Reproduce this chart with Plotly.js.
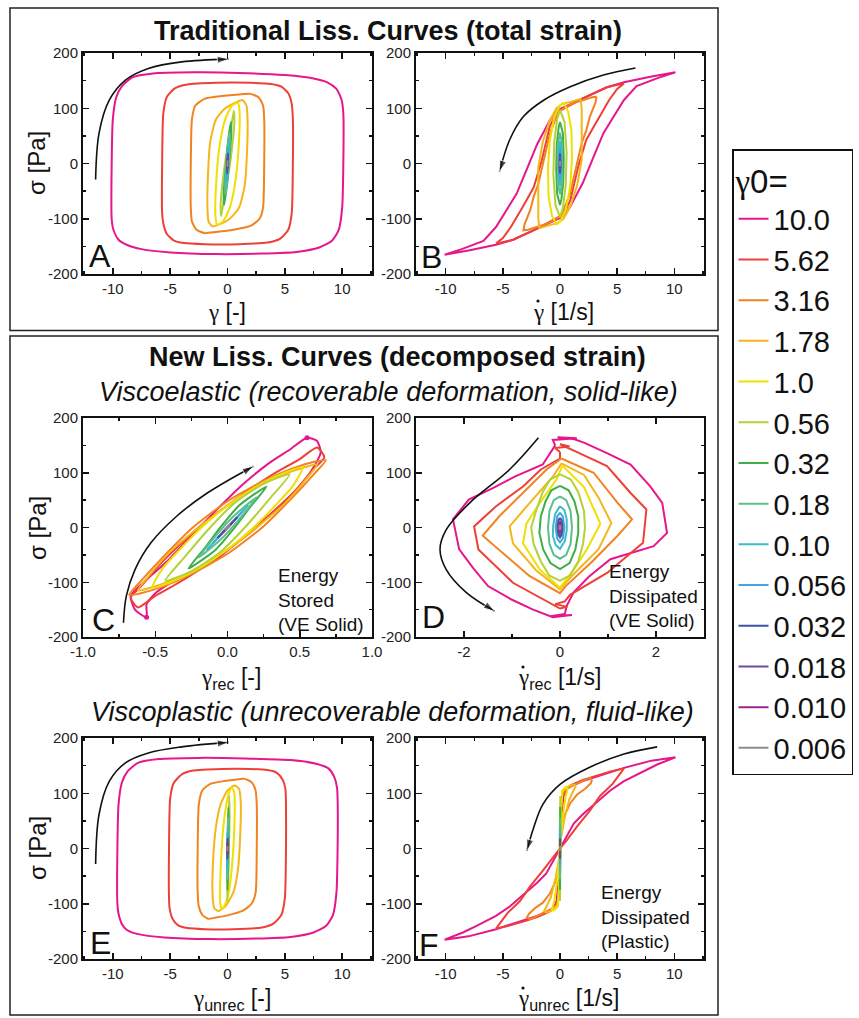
<!DOCTYPE html>
<html><head><meta charset="utf-8">
<script src="https://cdn.plot.ly/plotly-3.0.1.min.js"></script>
<style>body{margin:0;background:#fff}#chart{width:859px;height:1018px}</style>
</head><body><div id="chart"></div>
<script>
// ---------- categories / legend ----------
const amplitudes = ['10.0','5.62','3.16','1.78','1.0','0.56','0.32','0.18','0.10','0.056','0.032','0.018','0.010','0.006'];
const colors = ['#e6168b','#ee3f38','#f28220','#f5b61a','#f0e000','#b2d235','#3fae49','#5cbf8f','#3bbcc6','#43a6df','#3b55a4','#6e4c9f','#93278f','#8c8c8c'];

// ---------- tick labels ----------
const stressTicks = [-200,-100,0,100,200];
const stressTickText = ['-200','-100','0','100','200'];
const wideTicks = [-10,-5,0,5,10];
const wideTickText = ['-10','-5','0','5','10'];
const recTicks = [-1,-0.5,0,0.5,1];
const recTickText = ['-1.0','-0.5','0.0','0.5','1.0'];
const recRateTicks = [-2,0,2];
const recRateTickText = ['-2','0','2'];

// ---------- Panel A: stress vs total strain (one array per amplitude, legend order) ----------
const A_x = [
 [-10.1,-10.1,-10.0,-9.7,-9.2,-8.3,-6.5,-3.0,1.0,5.0,7.5,8.7,9.5,9.95,10.1,10.1,10.0,9.7,9.1,8.0,6.0,3.0,-1.0,-5.0,-7.5,-8.7,-9.5,-9.95,-10.1],
 [-5.7,-5.7,-5.6,-5.3,-4.6,-3.5,-1.0,2.0,3.8,4.7,5.3,5.6,5.7,5.7,5.6,5.3,4.6,3.5,1.0,-2.0,-3.8,-4.7,-5.3,-5.6,-5.7],
 [-3.2,-3.2,-3.1,-2.8,-2.0,-0.5,1.0,2.0,2.7,3.1,3.2,3.2,3.1,2.8,2.0,0.5,-1.0,-2.0,-2.7,-3.1,-3.2],
 [1.3,1.65,1.75,1.7,1.5,1.0,0.2,-0.7,-1.3,-1.65,-1.75,-1.7,-1.5,-1.0,-0.2,0.7,1.3],
 [0.9,1.05,1.0,0.7,0.2,-0.4,-0.9,-1.05,-1.0,-0.7,-0.2,0.4,0.9],
 [0.55,0.6,0.35,0.0,-0.35,-0.55,-0.6,-0.35,0.0,0.35,0.55],
 [0.3,0.33,0.15,-0.05,-0.3,-0.33,-0.15,0.05,0.3],
 [0.17,0.19,0.05,-0.17,-0.19,-0.05,0.17],
 [0.1,0.1,-0.1,-0.1,0.1],
 [0.056,0.056,-0.056,-0.056,0.056],
 [0.032,0.032,-0.032,-0.032,0.032],
 [0.018,0.018,-0.018,-0.018,0.018],
 [0.01,0.01,-0.01,-0.01,0.01],
 [0.006,0.006,-0.006,-0.006,0.006]
];
const A_y = [
 [-100,0,80,120,140,156,163,165,164,160,154,147,135,115,90,0,-80,-120,-140,-152,-160,-163,-164,-161,-155,-148,-138,-120,-100],
 [-90,0,90,120,136,143,146,146,144,139,127,108,80,0,-90,-120,-136,-143,-146,-146,-144,-139,-127,-108,-90],
 [-80,0,80,105,117,122,125,126,120,105,80,0,-80,-100,-113,-120,-124,-126,-120,-105,-80],
 [115,105,80,20,-40,-80,-100,-110,-114,-105,-80,-20,40,80,100,110,115],
 [110,95,40,-30,-80,-105,-111,-95,-40,30,80,105,110],
 [95,75,20,-30,-70,-95,-75,-20,30,70,95],
 [75,55,5,-40,-75,-55,-5,40,75],
 [56,35,-15,-56,-35,15,56],
 [40,20,-40,-20,40],
 [28,14,-28,-14,28],
 [18,9,-18,-9,18],
 [12,6,-12,-6,12],
 [8,4,-8,-4,8],
 [5,2,-5,-2,5]
];

// ---------- Panel B: stress vs total strain rate ----------
const B_x = [
 [10.1,8.6,6.7,5.6,4.7,3.8,2.9,2.0,0.9,0.3,-2.0,-4.1,-5.6,-7.9,-10.1,-8.6,-6.7,-5.6,-4.7,-3.8,-2.9,-2.0,-0.9,-0.3,2.0,4.1,5.6,7.9,10.1],
 [5.6,5.0,4.3,3.3,2.3,1.6,0.9,0.3,-2.0,-4.1,-5.6,-5.0,-4.3,-3.3,-2.3,-1.6,-0.9,-0.3,2.0,4.1,5.6],
 [3.2,3.1,2.6,2.3,1.9,1.4,0.9,0.4,0.0,-1.0,-2.0,-2.8,-3.2,-3.1,-2.6,-2.3,-1.9,-1.4,-0.9,-0.4,0.0,1.0,2.0,2.8,3.2],
 [1.8,1.9,1.9,1.9,1.5,0.9,0.3,-0.2,-1.0,-1.8,-1.9,-1.9,-1.9,-1.5,-0.9,-0.3,0.2,1.0,1.8],
 [0.3,0.7,1.0,1.05,0.9,0.5,0.0,-0.3,-0.7,-1.0,-1.05,-0.9,-0.5,0.0,0.3],
 [0,0.4,0.58,0.5,0.25,0,-0.4,-0.58,-0.5,-0.25,0],
 [0,0.25,0.33,0.28,0.12,0,-0.25,-0.33,-0.28,-0.12,0],
 [0,0.15,0.19,0.15,0,-0.15,-0.19,-0.15,0],
 [0,0.08,0.1,0.08,0,-0.08,-0.1,-0.08,0],
 [0,0.045,0.056,0.045,0,-0.045,-0.056,-0.045,0],
 [0,0.026,0.032,0.026,0,-0.026,-0.032,-0.026,0],
 [0,0.014,0.018,0.014,0,-0.014,-0.018,-0.014,0],
 [0,0.008,0.01,0.008,0,-0.008,-0.01,-0.008,0],
 [0,0.005,0.006,0.005,0,-0.005,-0.006,-0.005,0]
];
const B_y = [
 [165,155,140,115,85,55,10,-35,-78,-96,-118,-138,-147,-157,-165,-155,-140,-115,-85,-55,-10,35,78,96,118,138,147,157,165],
 [145,135,115,80,43,-5,-67,-92,-118,-138,-145,-135,-115,-80,-43,5,67,92,118,138,145],
 [121,110,84,60,37,-10,-53,-80,-96,-108,-115,-120,-121,-110,-84,-60,-37,10,53,80,96,108,115,120,121],
 [117,100,60,7,-40,-78,-100,-108,-112,-117,-100,-60,-7,40,78,100,108,112,117],
 [110,95,60,10,-40,-85,-105,-110,-95,-60,-10,40,85,105,110],
 [97,75,20,-40,-80,-97,-75,-20,40,80,97],
 [75,55,10,-35,-65,-75,-55,-10,35,65,75],
 [56,38,0,-38,-56,-38,0,38,56],
 [40,28,0,-28,-40,-28,0,28,40],
 [28,20,0,-20,-28,-20,0,20,28],
 [18,13,0,-13,-18,-13,0,13,18],
 [12,8.5,0,-8.5,-12,-8.5,0,8.5,12],
 [8,5.7,0,-5.7,-8,-5.7,0,5.7,8],
 [5,3.5,0,-3.5,-5,-3.5,0,3.5,5]
];

// ---------- Panel C: stress vs recoverable strain ----------
const C_x = [
 [-0.56,-0.64,-0.67,-0.58,-0.42,-0.25,-0.05,0.09,0.29,0.43,0.55,0.62,0.645,0.6,0.5,0.3,0.1,-0.1,-0.32,-0.49,-0.56,-0.56],
 [-0.62,-0.67,-0.6,-0.45,-0.2,0.05,0.3,0.5,0.62,0.67,0.6,0.45,0.2,-0.05,-0.3,-0.5,-0.62],
 [-0.68,-0.6,-0.45,-0.24,0,0.25,0.45,0.6,0.68,0.6,0.45,0.24,0,-0.25,-0.45,-0.6,-0.68],
 [-0.62,-0.55,-0.4,-0.2,0,0.25,0.45,0.62,0.55,0.4,0.2,0,-0.25,-0.45,-0.62],
 [-0.52,-0.45,-0.33,-0.18,0,0.18,0.35,0.52,0.45,0.33,0.18,0,-0.18,-0.35,-0.52],
 [-0.43,-0.3,-0.12,0.05,0.25,0.43,0.3,0.12,-0.05,-0.25,-0.43],
 [-0.27,-0.15,-0.05,0.08,0.27,0.15,0.05,-0.08,-0.27],
 [-0.2,-0.08,0.04,0.2,0.08,-0.04,-0.2],
 [-0.14,0.02,0.14,-0.02,-0.14],
 [-0.1,0.01,0.1,-0.01,-0.1],
 [-0.065,0.006,0.065,-0.006,-0.065],
 [-0.045,0.004,0.045,-0.004,-0.045],
 [-0.03,0.003,0.03,-0.003,-0.03],
 [-0.018,0.002,0.018,-0.002,-0.018]
];
const C_y = [
 [-164,-150,-125,-100,-62,-15,39,75,118,142,164,158,137,112,75,25,-20,-62,-90,-118,-140,-164],
 [-146,-128,-108,-62,0,50,95,125,146,128,108,62,0,-50,-95,-125,-146],
 [-123,-98,-55,0,48,85,108,120,123,98,55,0,-48,-85,-108,-120,-123],
 [-115,-90,-45,0,40,80,103,115,90,45,0,-40,-80,-103,-115],
 [-110,-75,-40,0,40,72,95,110,75,40,0,-40,-72,-95,-110],
 [-97,-55,0,45,80,97,55,0,-45,-80,-97],
 [-75,-35,0,40,75,35,0,-40,-75],
 [-55,-15,20,55,15,-20,-55],
 [-40,5,40,-5,-40],
 [-28,3,28,-3,-28],
 [-18,2,18,-2,-18],
 [-12,1.5,12,-1.5,-12],
 [-8,1,8,-1,-8],
 [-5,0.5,5,-0.5,-5]
];

// ---------- Panel D: stress vs recoverable strain rate ----------
const D_x = [
 [-0.1,-0.15,0.35,-0.05,0.3,0.5,1.0,1.47,1.88,2.13,2.23,1.95,1.05,0.6,0.28,0.14,0.1,-0.2,0.25,-0.15,-0.56,-1.0,-1.5,-1.8,-2.1,-2.23,-1.9,-1.4,-0.92,-0.36,-0.1],
 [0.0,-0.1,0.2,0.0,0.3,0.98,1.47,1.8,1.73,0.98,0.21,0.1,-0.1,0.15,0.0,-0.98,-1.7,-1.79,-1.33,-0.77,-0.4,0.0,0.0],
 [0.03,0.7,1.2,1.5,1.2,0.65,0.12,0.0,-0.63,-1.12,-1.61,-1.26,-0.77,-0.28,0.03],
 [0.03,0.5,0.8,1.07,0.8,0.24,0.0,-0.5,-0.98,-1.05,-0.63,-0.14,0.03],
 [0.05,0.5,0.84,0.56,0.24,0.0,-0.42,-0.77,-0.7,-0.42,-0.07,0.05],
 [0,0.22,0.38,0.5,0.52,0.48,0.38,0.2,0,-0.22,-0.4,-0.55,-0.6,-0.5,-0.36,-0.2,0],
 [0,0.18,0.3,0.38,0.38,0.32,0.2,0,-0.2,-0.35,-0.43,-0.4,-0.3,-0.18,0],
 [0,0.13,0.22,0.25,0.22,0.13,0,-0.13,-0.22,-0.25,-0.22,-0.13,0],
 [0,0.09,0.14,0.14,0.1,0,-0.09,-0.15,-0.14,-0.1,0],
 [0,0.06,0.09,0.06,0,-0.06,-0.09,-0.06,0],
 [0,0.035,0.05,0.035,0,-0.035,-0.05,-0.035,0],
 [0,0.025,0.035,0.025,0,-0.025,-0.035,-0.025,0],
 [0,0.015,0.02,0.015,0,-0.015,-0.02,-0.015,0],
 [0,0.008,0.012,0.008,0,-0.008,-0.012,-0.008,0]
];
const D_y = [
 [150,160,163,165,161,155,135,115,75,45,-10,-34,-58,-90,-119,-143,-158,-162,-160,-164,-150,-132,-107,-75,-40,15,51,72,94,115,150],
 [138,145,148,152,140,112,63,33,-28,-83,-123,-135,-140,-145,-148,-101,-40,2,39,75,106,126,138],
 [126,100,45,15,-15,-64,-107,-120,-89,-52,-15,21,63,106,126],
 [117,96,55,8,-40,-89,-113,-78,-29,2,45,94,117],
 [113,74,7,-40,-83,-110,-77,-29,7,45,88,113],
 [97,88,65,30,0,-30,-62,-88,-97,-88,-62,-30,0,30,65,88,97],
 [76,68,48,20,-10,-40,-65,-76,-65,-40,-10,20,48,68,76],
 [57,50,30,0,-30,-50,-57,-50,-30,0,30,50,57],
 [39,32,15,-5,-25,-39,-32,-15,5,25,39],
 [27,20,0,-20,-27,-20,0,20,27],
 [18,13,0,-13,-18,-13,0,13,18],
 [12,9,0,-9,-12,-9,0,9,12],
 [8,6,0,-6,-8,-6,0,6,8],
 [4,3,0,-3,-4,-3,0,3,4]
];

// ---------- Panel E: stress vs unrecoverable strain ----------
const E_x = [
 [-9.6,-9.6,-9.5,-9.2,-8.7,-7.8,-6.0,-2.5,1.5,5.5,7.8,8.8,9.3,9.55,9.6,9.6,9.5,9.2,8.6,7.5,5.5,2.5,-1.5,-5.5,-7.8,-8.8,-9.2,-9.5,-9.6],
 [-5.1,-5.1,-5.0,-4.7,-4.0,-3.0,-0.5,2.0,3.5,4.3,4.8,5.05,5.1,5.1,5.0,4.7,4.0,3.0,0.5,-2.0,-3.5,-4.3,-4.8,-5.05,-5.1],
 [-2.6,-2.6,-2.5,-2.2,-1.5,-0.3,0.8,1.5,2.1,2.45,2.55,2.55,2.45,2.1,1.3,0.0,-1.0,-1.7,-2.2,-2.5,-2.6],
 [0.6,1.0,1.15,1.1,0.9,0.5,-0.2,-0.8,-1.15,-1.3,-1.25,-1.0,-0.6,0.0,0.6],
 [0.4,0.6,0.6,0.4,0.1,-0.3,-0.5,-0.65,-0.6,-0.4,-0.1,0.2,0.4],
 [0.15,0.18,0.1,0.0,-0.03,0.05,0.15],
 [0.08,0.1,0.05,0.0,-0.02,0.03,0.08],
 [0.05,0.06,0.02,0.0,-0.01,0.03,0.05],
 [0.03,0.035,0.0,-0.005,0.03],
 [0.02,0.025,0.0,-0.005,0.02],
 [0.01,0.012,0.0,-0.002,0.01],
 [0.006,0.007,0.0,-0.001,0.006],
 [0.004,0.005,0.0,-0.001,0.004],
 [0.002,0.003,0.0,-0.001,0.002]
];
const E_y = [
 [-100,0,80,120,140,155,162,164,163,160,153,145,130,110,90,0,-80,-120,-140,-152,-160,-163,-164,-161,-155,-147,-137,-118,-100],
 [-90,0,90,118,134,141,144,144,142,137,125,108,80,0,-90,-120,-136,-143,-146,-146,-144,-139,-127,-108,-90],
 [-80,0,80,105,117,122,125,126,120,105,80,0,-80,-100,-113,-121,-125,-127,-120,-105,-80],
 [114,108,85,20,-40,-80,-105,-113,-108,-85,-20,40,80,105,114],
 [110,100,40,-30,-80,-105,-110,-95,-40,30,80,105,110],
 [95,60,-30,-95,-60,30,95],
 [75,40,-40,-75,-40,40,75],
 [55,20,-30,-55,-20,30,55],
 [40,0,-40,0,40],
 [28,0,-28,0,28],
 [18,0,-18,0,18],
 [12,0,-12,0,12],
 [8,0,-8,0,8],
 [5,0,-5,0,5]
];

// ---------- Panel F: stress vs unrecoverable strain rate ----------
const F_x = [
 [-10.1,-8.5,-7.3,-5.6,-4.4,-3.3,-2.0,-1.2,-0.5,0.0,0.5,1.2,2.0,3.3,4.4,5.6,7.3,8.5,10.1,8.0,5.6,3.5,2.0,1.0,0.6,0.3,0.05,-0.05,-0.3,-0.6,-1.0,-2.0,-3.5,-5.6,-8.0,-10.1],
 [-5.6,-4.6,-3.5,-2.6,-1.5,-0.6,0.0,0.6,1.5,2.6,3.5,4.6,5.6,4.5,3.0,2.0,1.0,0.5,0.2,0.05,-0.05,-0.2,-0.5,-1.0,-2.0,-3.0,-4.5,-5.6],
 [2.8,2.7,2.2,1.5,0.9,0.4,0.1,0.0,-0.1,-0.4,-0.9,-1.5,-2.2,-2.7,-2.9,-2.6,-1.8,-1.0,-0.4,-0.1,0.05,0.1,0.4,1.0,1.8,2.6,2.8],
 [1.4,1.2,0.8,0.4,0.1,0.0,-0.1,-0.4,-0.8,-1.2,-1.4,-1.2,-0.7,-0.2,0.0,0.05,0.2,0.7,1.2,1.4],
 [0.7,0.5,0.25,0.05,-0.05,-0.25,-0.5,-0.7,-0.55,-0.2,-0.05,0.05,0.2,0.55,0.7],
 [0.03,0.05,0.0,-0.05,0.03],
 [0.02,0.03,0.0,-0.03,0.02],
 [0.015,0.02,0.0,-0.02,0.015],
 [0.01,0.015,0.0,-0.015,0.01],
 [0.008,0.01,0.0,-0.01,0.008],
 [0.005,0.006,0.0,-0.006,0.005],
 [0.003,0.004,0.0,-0.004,0.003],
 [0.002,0.003,0.0,-0.003,0.002],
 [0.001,0.002,0.0,-0.002,0.001]
];
const F_y = [
 [-165,-152,-140,-122,-105,-86,-62,-45,-18,0,18,45,62,86,105,122,140,152,165,159,146,132,122,113,108,95,40,-40,-95,-108,-113,-122,-132,-146,-159,-165],
 [-145,-117,-95,-68,-40,-15,0,15,40,68,95,117,145,140,131,124,115,108,95,40,-40,-95,-108,-115,-124,-131,-140,-145],
 [125,118,108,98,82,60,25,0,-25,-60,-82,-98,-108,-118,-125,-128,-120,-113,-106,-90,0,90,106,113,120,128,125],
 [113,106,88,55,20,0,-20,-55,-88,-106,-113,-116,-112,-102,-60,60,102,112,116,113],
 [110,95,60,15,-15,-60,-95,-110,-112,-105,-60,60,105,112,110],
 [95,0,-95,0,95],
 [75,0,-75,0,75],
 [55,0,-55,0,55],
 [40,0,-40,0,40],
 [28,0,-28,0,28],
 [18,0,-18,0,18],
 [12,0,-12,0,12],
 [8,0,-8,0,8],
 [5,0,-5,0,5]
];

// ---------- direction arrows (data coordinates) ----------
const arrowA_x = [-11.5,-11.2,-10.3,-8.9,-6.9,-4.0,0.1];
const arrowA_y = [-29,55,115,151,172,184,189];
const arrowB_x = [6.6,3.8,0.9,-1.4,-3.2,-4.4,-5.3];
const arrowB_y = [173,160,139,115,85,43,-15];
const arrowC_x = [-0.72,-0.7,-0.64,-0.53,-0.35,-0.14,0.18];
const arrowC_y = [-174,-125,-77,-28,21,63,112];
const arrowD_x = [-0.45,-1.05,-1.88,-2.37,-2.5,-2.37,-1.95,-1.36];
const arrowD_y = [164,106,45,-4,-40,-77,-119,-153];
const arrowE_x = [-11.5,-11.2,-10.3,-8.9,-6.9,-4.0,0.1];
const arrowE_y = [-28,62,122,155,173,184,192];
const arrowF_x = [8.5,5.6,2.6,0.0,-1.5,-2.3,-2.9];
const arrowF_y = [184,171,147,116,80,38,-4];

// ---------- layout helpers ----------
const W = 859, H = 1018;
const FONT = 'Liberation Sans, Arial, Helvetica, sans-serif';
const SERIF = 'Liberation Serif, Times New Roman, serif';
const G = '<span style="font-family:' + SERIF + '">γ</span>';
const px = v => v / W;
const py = v => 1 - v / H;

const panels = [
  {X:A_x, Y:A_y, ax:arrowA_x, ay:arrowA_y, box:[83,372,53,274], xr:[-12.6,12.6], xt:wideTicks, xtt:wideTickText, xm:2.5, shape:'spline'},
  {X:B_x, Y:B_y, ax:arrowB_x, ay:arrowB_y, box:[416,704,53,274], xr:[-12.6,12.6], xt:wideTicks, xtt:wideTickText, xm:2.5, shape:'linear'},
  {X:C_x, Y:C_y, ax:arrowC_x, ay:arrowC_y, box:[83,372,418,637], xr:[-1,1], xt:recTicks, xtt:recTickText, xm:0.25, shape:'spline'},
  {X:D_x, Y:D_y, ax:arrowD_x, ay:arrowD_y, box:[416,704,418,637], xr:[-3,3], xt:recRateTicks, xtt:recRateTickText, xm:1, shape:'linear'},
  {X:E_x, Y:E_y, ax:arrowE_x, ay:arrowE_y, box:[83,372,738,959], xr:[-12.6,12.6], xt:wideTicks, xtt:wideTickText, xm:2.5, shape:'spline'},
  {X:F_x, Y:F_y, ax:arrowF_x, ay:arrowF_y, box:[416,704,738,959], xr:[-12.6,12.6], xt:wideTicks, xtt:wideTickText, xm:2.5, shape:'linear'}
];

const traces = [];
const layout = {
  width: W, height: H,
  margin: {l:0, r:0, t:0, b:0},
  paper_bgcolor: '#fff', plot_bgcolor: '#fff',
  font: {family: FONT, color: '#111'},
  hovermode: false,
  showlegend: true,
  legend: {
    x: px(732), xanchor: 'left', y: py(149), yanchor: 'top',
    bordercolor: '#111', borderwidth: 1.5, bgcolor: '#fff',
    font: {family: FONT, size: 29, color: '#111'},
    title: {text: G + '0=', font: {family: FONT, size: 33, color: '#111'}},
    tracegroupgap: 0, itemwidth: 30
  },
  annotations: [], shapes: []
};

const axisBase = {
  showline: true, linewidth: 2, linecolor: '#111', mirror: 'ticks',
  ticks: 'inside', ticklen: 6, tickwidth: 1.5, tickcolor: '#111',
  showgrid: false, zeroline: false, fixedrange: true,
  tickfont: {family: FONT, size: 15, color: '#222'}, tickmode: 'array'
};

panels.forEach((p, k) => {
  const sfx = k === 0 ? '' : String(k + 1);
  const xa = 'x' + sfx, ya = 'y' + sfx;
  layout['xaxis' + sfx] = Object.assign({}, axisBase, {
    domain: [px(p.box[0]), px(p.box[1])], anchor: ya, range: p.xr,
    tickvals: p.xt, ticktext: p.xtt,
    minor: {dtick: p.xm, tick0: 0, ticks: 'inside', ticklen: 3, tickwidth: 1.5, tickcolor: '#111', showgrid: false}
  });
  layout['yaxis' + sfx] = Object.assign({}, axisBase, {
    domain: [py(p.box[3]), py(p.box[2])], anchor: xa, range: [-200, 200],
    tickvals: stressTicks, ticktext: stressTickText,
    minor: {dtick: 50, tick0: 0, ticks: 'inside', ticklen: 3, tickwidth: 1.5, tickcolor: '#111', showgrid: false}
  });
  p.X.forEach((xs, i) => {
    traces.push({
      type: 'scatter', mode: 'lines', x: xs, y: p.Y[i], xaxis: xa, yaxis: ya,
      name: amplitudes[i], showlegend: k === 0, hoverinfo: 'skip',
      line: {color: colors[i], width: 2, shape: p.shape, smoothing: 0.6}
    });
  });
  // black direction arrow
  traces.push({
    type: 'scatter', mode: 'lines+markers', x: p.ax, y: p.ay, xaxis: xa, yaxis: ya,
    showlegend: false, hoverinfo: 'skip',
    line: {color: '#111', width: 1.6, shape: 'spline', smoothing: 1},
    marker: {symbol: 'arrow', angleref: 'previous', color: '#111',
             size: p.ax.map((_, j) => j === p.ax.length - 1 ? 12 : 0)}
  });
});

// end-point dots on the largest loop of panel C
{
  const xs = C_x[0], ys = C_y[0];
  const iTop = ys.indexOf(Math.max(...ys)), iBot = ys.indexOf(Math.min(...ys));
  traces.push({type: 'scatter', mode: 'markers', x: [xs[iTop], xs[iBot]], y: [ys[iTop], ys[iBot]],
    xaxis: 'x3', yaxis: 'y3', showlegend: false, hoverinfo: 'skip',
    marker: {color: colors[0], size: 5}});
}

function ann(text, x, y, size, extra) {
  layout.annotations.push(Object.assign({
    text: text, x: px(x), y: py(y), xref: 'paper', yref: 'paper',
    showarrow: false, xanchor: 'center', yanchor: 'middle',
    font: {family: FONT, size: size, color: '#111'}
  }, extra || {}));
}

// section headings
ann('<b>Traditional Liss. Curves (total strain)</b>', 388, 31, 27);
ann('<b>New Liss. Curves (decomposed strain)</b>', 397, 357, 27);
ann('<i>Viscoelastic (recoverable deformation, solid-like)</i>', 388, 392, 27);
ann('<i>Viscoplastic (unrecoverable deformation, fluid-like)</i>', 392, 712, 27);

// axis titles (left-anchored so the rate dot can sit over the gamma)
const L = {xanchor: 'left'};
ann(G + ' [-]', 206, 312, 23, L);
ann(G + ' [1/s]', 531, 312, 23, L);
ann(G + '<sub>rec</sub> [-]', 199, 678, 23, L);
ann(G + '<sub>rec</sub> [1/s]', 516, 678, 23, L);
ann(G + '<sub>unrec</sub> [-]', 191, 999, 23, L);
ann(G + '<sub>unrec</sub> [1/s]', 516, 999, 23, L);
// dots marking the time derivative (drawn as small filled circles)
[[538, 301], [523, 667], [523, 988]].forEach(d => layout.shapes.push({
  type: 'circle', xref: 'paper', yref: 'paper',
  x0: px(d[0] - 1.6), x1: px(d[0] + 1.6), y0: py(d[1] + 1.6), y1: py(d[1] - 1.6),
  fillcolor: '#111', line: {width: 0}
}));
[163, 528, 848].forEach(yc => ann('σ [Pa]', 37, yc, 24, {textangle: -90}));

// panel letters
[['A',100,256],['B',431,257],['C',103,620],['D',433,617],['E',100,943],['F',429,945]]
  .forEach(t => ann(t[0], t[1], t[2], 32));

// energy notes
ann('Energy<br>Stored<br>(VE Solid)', 276, 600, 19, {xanchor: 'left', align: 'left'});
ann('Energy<br>Dissipated<br>(VE Solid)', 607, 596, 19, {xanchor: 'left', align: 'left'});
ann('Energy<br>Dissipated<br>(Plastic)', 599, 917, 19, {xanchor: 'left', align: 'left'});

// section frames
layout.shapes.push({type: 'rect', xref: 'paper', yref: 'paper', x0: px(10), x1: px(718), y0: py(330.5), y1: py(8),
  line: {color: '#222', width: 1.5}});
layout.shapes.push({type: 'rect', xref: 'paper', yref: 'paper', x0: px(10), x1: px(718), y0: py(1015), y1: py(336),
  line: {color: '#222', width: 1.5}});

Plotly.newPlot('chart', traces, layout, {staticPlot: true, displayModeBar: false});
</script>
</body></html>
